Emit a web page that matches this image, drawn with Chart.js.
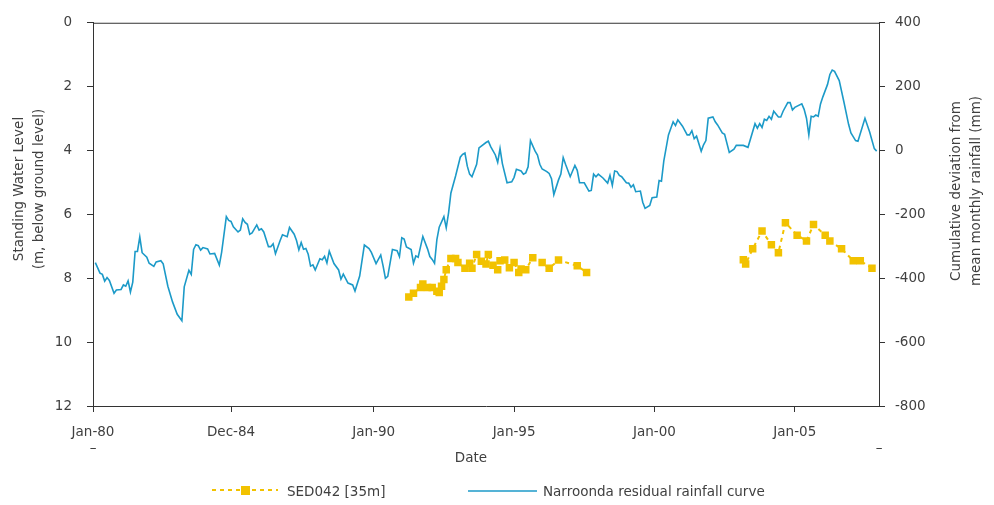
<!DOCTYPE html>
<html>
<head>
<meta charset="utf-8">
<title>SED042 standing water level and Narroonda residual rainfall</title>
<script src="https://cdn.jsdelivr.net/npm/chart.js"></script>
<style>
  html, body { margin: 0; padding: 0; background: #fff; }
  #wrap { position: relative; width: 994px; height: 505px; }
</style>
</head>
<body>
<div id="wrap"><canvas id="levelChart"></canvas></div>
<script>
// SED042 [35m] readings: months since Jan-80, depth to water (m below ground level)
const sedMonths = [135, 137, 140, 141, 143, 145, 147, 148, 149, 150, 151, 153, 155, 156, 159, 161, 162, 164,
  166, 168, 169, 171, 173, 174, 176, 178, 180, 182, 183, 185, 188, 192, 195, 199, 207, 211,
  278, 279, 282, 286, 290, 293, 296, 301, 305, 308, 313, 315, 320, 325, 328, 333];
const sedLevels = [8.59, 8.47, 8.29, 8.18, 8.29, 8.29, 8.41, 8.45, 8.25, 8.04, 7.73, 7.38, 7.38, 7.51, 7.69, 7.53, 7.69, 7.26,
  7.47, 7.55, 7.26, 7.59, 7.73, 7.45, 7.43, 7.67, 7.51, 7.82, 7.71, 7.73, 7.36, 7.51, 7.69, 7.43, 7.61, 7.82,
  7.42, 7.55, 7.08, 6.52, 6.95, 7.2, 6.26, 6.65, 6.83, 6.32, 6.65, 6.83, 7.08, 7.45, 7.45, 7.69];

// Narroonda residual rainfall: months since Jan-80, cumulative deviation from mean (mm)
const rainMonths = [1, 3, 4, 5, 6, 7, 9, 10, 12, 13, 14, 15, 16, 17, 18, 19, 20, 21, 23, 24, 26, 27, 29, 30,
  32, 34, 36, 38, 39, 41, 42, 43, 44, 45, 46, 47, 49, 50, 52, 54, 55, 57, 58, 59, 60, 62, 63, 64, 65, 66, 67, 68,
  70, 71, 72, 73, 75, 76, 77, 78, 80, 81, 83, 84, 86, 87, 88, 89, 90, 91, 92, 93, 94, 95, 97, 98, 99, 100, 101,
  103, 105, 106, 107, 109, 111, 112, 114, 116, 118, 119, 121, 123, 124, 125, 126, 128, 130, 131, 132, 133, 134,
  136, 137, 138, 139, 141, 143, 144, 145, 146, 147, 148, 150, 151, 152, 153, 155, 157, 158, 159, 160, 161, 162,
  164, 165, 168, 169, 170, 172, 173, 174, 175, 177, 179, 180, 181, 183, 184, 185, 186, 187, 189, 190, 191, 192,
  194, 195, 196, 197, 199, 200, 201, 202, 204, 206, 207, 208, 210, 212, 213, 214, 215, 216, 218, 220, 221, 222,
  223, 224, 225, 226, 228, 229, 230, 231, 232, 234, 235, 236, 238, 239, 241, 242, 243, 244, 246, 248, 249, 250,
  252, 254, 255, 256, 257, 258, 260, 261, 262, 263, 265, 266, 267, 269, 270, 272, 274, 275, 277, 278, 280, 283,
  284, 285, 286, 287, 288, 289, 290, 291, 293, 294, 295, 297, 298, 299, 300, 303, 304, 305, 306, 307, 308, 309,
  310, 311, 312, 314, 315, 316, 317, 319, 321, 323, 324, 326, 327, 330, 332, 334, 335];
const rainDeviation = [-351, -384, -388, -409, -398, -407, -447, -437, -435, -421, -425, -408, -443, -412, -316, -316, -271, -320, -334, -353, -363, -349, -345, -355,
  -425, -474, -513, -533, -427, -375, -388, -310, -295, -298, -312, -304, -308, -324, -322, -359, -318, -207, -219, -222, -239, -255, -249, -214, -225, -231, -262, -258,
  -233, -249, -245, -255, -301, -301, -292, -323, -282, -264, -270, -241, -262, -282, -311, -288, -309, -307, -325, -362, -358, -374, -339, -342, -331, -352, -315,
  -354, -374, -403, -387, -415, -421, -440, -393, -296, -307, -319, -354, -327, -361, -400, -394, -310, -314, -332, -273, -277, -302,
  -310, -353, -330, -334, -269, -308, -332, -341, -353, -279, -240, -207, -242, -195, -133, -80, -21, -12, -8, -49, -74, -82,
  -43, 8, 25, 29, 12, -14, -37, 6, -41, -101, -98, -84, -59, -64, -74, -70, -51, 31, -2, -14, -43, -58,
  -66, -72, -88, -138, -92, -74, -22, -43, -82, -47, -62, -101, -101, -127, -125, -74, -82, -74, -86, -102, -78, -109,
  -64, -66, -78, -82, -101, -102, -115, -107, -129, -127, -162, -181, -172, -148, -146, -94, -96, -33, 49, 90, 78, 96,
  76, 49, 49, 62, 37, 45, -2, 18, 31, 101, 105, 90, 80, 55, 51, -6, 4, 16, 16, 16, 10, 84,
  70, 84, 72, 98, 94, 107, 98, 123, 105, 105, 123, 150, 150, 127, 135, 146, 129, 101, 49, 107, 105, 111,
  107, 146, 168, 207, 238, 252, 248, 219, 152, 82, 55, 31, 29, 101, 58, 6, -2];

// Date axis ticks (months since Jan-80)
const tickMonths = [0, 59, 120, 180, 240, 300, 336];
const tickLabels = [['Jan-80', '–'], 'Dec-84', 'Jan-90', 'Jan-95', 'Jan-00', 'Jan-05', ['', '–']];
const endMonth = 336;

const leftTitle = ['Standing Water Level', '(m, below ground level)'];
const rightTitle = ['Cumulative deviation from', 'mean monthly rainfall (mm)'];
const xTitle = 'Date';

const TEXT = '#404040';
const AXIS = '#333333';
const GOLD = '#f2c200';
const BLUE = '#1c9ac8';
const FONT = "'DejaVu Sans', sans-serif";

// Break the bore line where there is a long gap between readings
const sedPoints = [];
sedMonths.forEach((m, i) => {
    if (i > 0 && m - sedMonths[i - 1] > 24) {
        sedPoints.push({ x: (m + sedMonths[i - 1]) / 2, y: null });
    }
    sedPoints.push({ x: m, y: sedLevels[i] });
});
const rainPoints = rainMonths.map((m, i) => ({ x: m, y: rainDeviation[i] }));

// Rotated two-line axis title
function drawVertical(ctx, lines, xs, y) {
    lines.forEach((line, i) => {
        ctx.save();
        ctx.translate(xs[i], y);
        ctx.rotate(-Math.PI / 2);
        ctx.fillText(line, 0, 0);
        ctx.restore();
    });
}

// Top frame line, axis titles and the legend under the chart
const decorations = {
    id: 'decorations',
    afterDraw(chart) {
        const ctx = chart.ctx;
        const area = chart.chartArea;
        ctx.save();
        ctx.strokeStyle = AXIS;
        ctx.lineWidth = 1;
        ctx.beginPath();
        ctx.moveTo(area.left, area.top + 0.5);
        ctx.lineTo(area.right, area.top + 0.5);
        ctx.stroke();

        ctx.fillStyle = TEXT;
        ctx.font = '13.5px ' + FONT;
        ctx.textAlign = 'center';
        ctx.textBaseline = 'middle';
        ctx.fillText(xTitle, 471, 458);
        drawVertical(ctx, leftTitle, [19, 39], 189);
        drawVertical(ctx, rightTitle, [956, 976], 191);

        const sed = chart.data.datasets[0];
        const rain = chart.data.datasets[1];
        ctx.strokeStyle = sed.borderColor;
        ctx.lineWidth = sed.borderWidth;
        ctx.setLineDash(sed.borderDash);
        ctx.beginPath();
        ctx.moveTo(212, 490);
        ctx.lineTo(278, 490);
        ctx.stroke();
        ctx.setLineDash([]);
        ctx.fillStyle = sed.pointBackgroundColor;
        ctx.fillRect(241, 486, 9, 9);

        ctx.strokeStyle = rain.borderColor;
        ctx.lineWidth = rain.borderWidth;
        ctx.beginPath();
        ctx.moveTo(468, 491);
        ctx.lineTo(537, 491);
        ctx.stroke();

        ctx.fillStyle = TEXT;
        ctx.textAlign = 'left';
        ctx.fillText(sed.label, 287, 492);
        ctx.fillText(rain.label, 543, 492);
        ctx.restore();
    }
};

const tickFont = { family: FONT, size: 13.5, lineHeight: 1.15 };

new Chart(document.getElementById('levelChart'), {
    type: 'line',
    data: {
        datasets: [{
            label: 'SED042 [35m]',
            data: sedPoints,
            yAxisID: 'y',
            borderColor: GOLD,
            borderWidth: 2,
            borderDash: [4, 4],
            pointStyle: 'rect',
            pointRadius: 5.3,
            pointBackgroundColor: GOLD,
            pointBorderWidth: 0,
            spanGaps: false,
            tension: 0
        }, {
            label: 'Narroonda residual rainfall curve',
            data: rainPoints,
            yAxisID: 'y2',
            borderColor: BLUE,
            borderWidth: 1.6,
            pointRadius: 0,
            tension: 0
        }]
    },
    options: {
        responsive: true,
        maintainAspectRatio: false,
        animation: false,
        layout: { padding: { top: 16, left: 0, right: 0, bottom: 0 } },
        plugins: {
            legend: { display: false },
            tooltip: { enabled: false }
        },
        scales: {
            x: {
                type: 'linear',
                min: 0,
                max: endMonth,
                afterFit: s => { s.height = 99; },
                afterBuildTicks: s => { s.ticks = tickMonths.map(v => ({ value: v })); },
                grid: {
                    drawOnChartArea: false,
                    tickLength: 6,
                    color: AXIS,
                    tickColor: c => (c.tick && c.tick.value === endMonth) ? 'rgba(0,0,0,0)' : AXIS
                },
                border: { color: AXIS, width: 1 },
                ticks: {
                    autoSkip: false,
                    maxRotation: 0,
                    padding: 13,
                    color: TEXT,
                    font: tickFont,
                    callback: v => {
                        const i = tickMonths.indexOf(v);
                        return i >= 0 ? tickLabels[i] : '';
                    }
                }
            },
            y: {
                position: 'left',
                reverse: true,
                min: 0,
                max: 12,
                afterFit: s => { s.width = 93; },
                grid: { drawOnChartArea: false, tickLength: 6, color: AXIS },
                border: { color: AXIS, width: 1 },
                ticks: { stepSize: 2, padding: 15, color: TEXT, font: tickFont }
            },
            y2: {
                position: 'right',
                min: -800,
                max: 400,
                afterFit: s => { s.width = 115; },
                grid: { drawOnChartArea: false, tickLength: 6, color: AXIS },
                border: { color: AXIS, width: 1 },
                ticks: { stepSize: 200, padding: 10, color: TEXT, font: tickFont }
            }
        }
    },
    plugins: [decorations]
});
</script>
</body>
</html>
